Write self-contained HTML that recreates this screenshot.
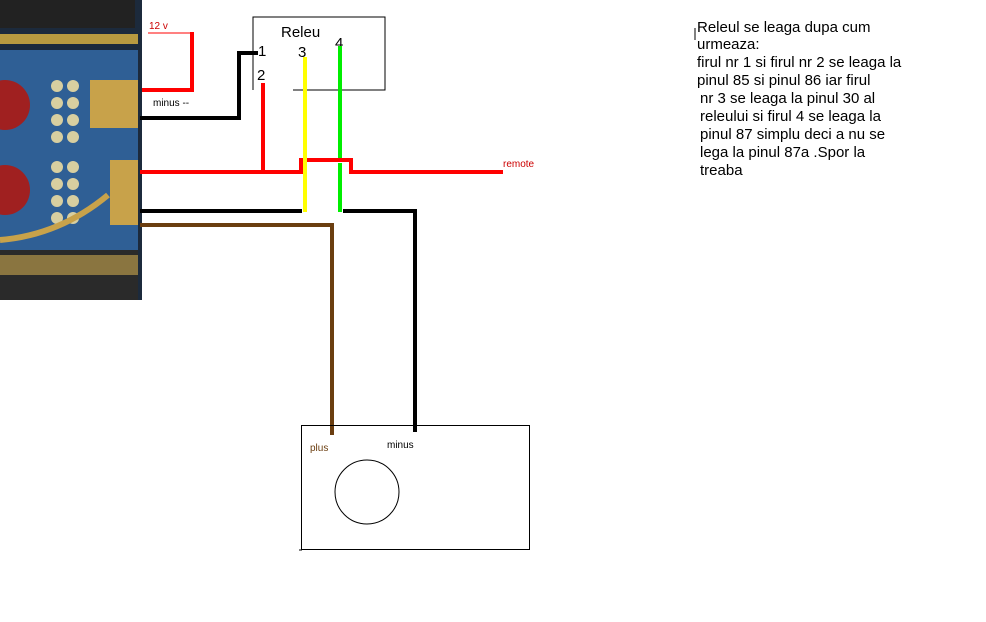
<!DOCTYPE html>
<html><head><meta charset="utf-8"><style>
body{margin:0;background:#fff;width:986px;height:622px;overflow:hidden}
svg{display:block}
text{font-family:"Liberation Sans",sans-serif}
</style></head><body>
<svg width="986" height="622" viewBox="0 0 986 622" xmlns="http://www.w3.org/2000/svg">
<rect x="0" y="0" width="142" height="300" fill="#1c2a3c"/>
<rect x="0" y="0" width="135" height="28" fill="#222"/>
<rect x="0" y="34" width="138" height="10" fill="#b89a40"/>
<rect x="0" y="50" width="138" height="200" fill="#2f5f95"/>
<rect x="90" y="80" width="48" height="48" fill="#c8a24a"/>
<rect x="110" y="160" width="28" height="65" fill="#c8a24a"/>
<rect x="0" y="250" width="138" height="50" fill="#2a2a2a"/>
<rect x="0" y="255" width="138" height="20" fill="#8a7540"/>
<circle cx="5" cy="105" r="25" fill="#a02020"/>
<circle cx="5" cy="190" r="25" fill="#a02020"/>
<g fill="#d8cfa0">
<circle cx="57" cy="86" r="6"/><circle cx="73" cy="86" r="6"/>
<circle cx="57" cy="103" r="6"/><circle cx="73" cy="103" r="6"/>
<circle cx="57" cy="120" r="6"/><circle cx="73" cy="120" r="6"/>
<circle cx="57" cy="137" r="6"/><circle cx="73" cy="137" r="6"/>
<circle cx="57" cy="167" r="6"/><circle cx="73" cy="167" r="6"/>
<circle cx="57" cy="184" r="6"/><circle cx="73" cy="184" r="6"/>
<circle cx="57" cy="201" r="6"/><circle cx="73" cy="201" r="6"/>
<circle cx="57" cy="218" r="6"/><circle cx="73" cy="218" r="6"/>
</g>
<path d="M0 240 Q60 235 108 195" stroke="#c8a24a" stroke-width="6" fill="none"/>

<path d="M253 90 V17 H385 V90 H293" stroke="#000" stroke-width="1" fill="none"/>
<text x="281" y="37" font-size="15">Releu</text>
<text x="258" y="56" font-size="15">1</text>
<text x="257" y="80" font-size="15">2</text>
<text x="298" y="57" font-size="15">3</text>
<text x="335" y="48" font-size="15">4</text>

<polyline points="142,90 192,90 192,32" stroke="#f00" stroke-width="4" fill="none"/>
<line x1="148" y1="33" x2="192" y2="33" stroke="#f00" stroke-width="1"/>
<text x="149" y="29" font-size="10" fill="#c00">12 v</text>
<text x="153" y="106" font-size="10">minus --</text>
<polyline points="140,118 239,118 239,53 258,53" stroke="#000" stroke-width="4" fill="none"/>
<line x1="263" y1="83" x2="263" y2="173" stroke="#f00" stroke-width="4"/>
<polyline points="140,172 301,172 301,160 351,160 351,172 503,172" stroke="#f00" stroke-width="4" fill="none"/>
<text x="503" y="167" font-size="10" fill="#c00">remote</text>
<line x1="305" y1="57" x2="305" y2="212" stroke="#ff0" stroke-width="4"/>
<line x1="340" y1="46" x2="340" y2="158" stroke="#0e0" stroke-width="4"/>
<line x1="340" y1="163" x2="340" y2="212" stroke="#0e0" stroke-width="4"/>
<line x1="140" y1="211" x2="302" y2="211" stroke="#000" stroke-width="4"/>
<polyline points="343,211 415,211 415,432" stroke="#000" stroke-width="4" fill="none"/>
<polyline points="140,225 332,225 332,435" stroke="#6b3e10" stroke-width="4" fill="none"/>

<rect x="301.5" y="425.5" width="228" height="124" stroke="#000" stroke-width="1" fill="none"/>
<line x1="299" y1="550" x2="302" y2="550" stroke="#000"/>
<text x="310" y="451" font-size="10" fill="#6b3e10">plus</text>
<text x="387" y="448" font-size="10">minus</text>
<circle cx="367" cy="492" r="32" stroke="#000" stroke-width="1" fill="none"/>

<g font-size="15" fill="#000">
<text x="697" y="32">Releul se leaga dupa cum</text>
<text x="697" y="49">urmeaza:</text>
<text x="697" y="67">firul nr 1 si firul nr 2 se leaga la</text>
<text x="697" y="85">pinul 85 si pinul 86 iar firul</text>
<text x="700" y="103">nr 3 se leaga la pinul 30 al</text>
<text x="700" y="121">releului si firul 4 se leaga la</text>
<text x="700" y="139">pinul 87 simplu  deci a nu se</text>
<text x="700" y="157">lega la pinul 87a .Spor la</text>
<text x="700" y="175">treaba</text>
</g>
<line x1="695" y1="28" x2="695" y2="40" stroke="#000"/>
</svg>
</body></html>
